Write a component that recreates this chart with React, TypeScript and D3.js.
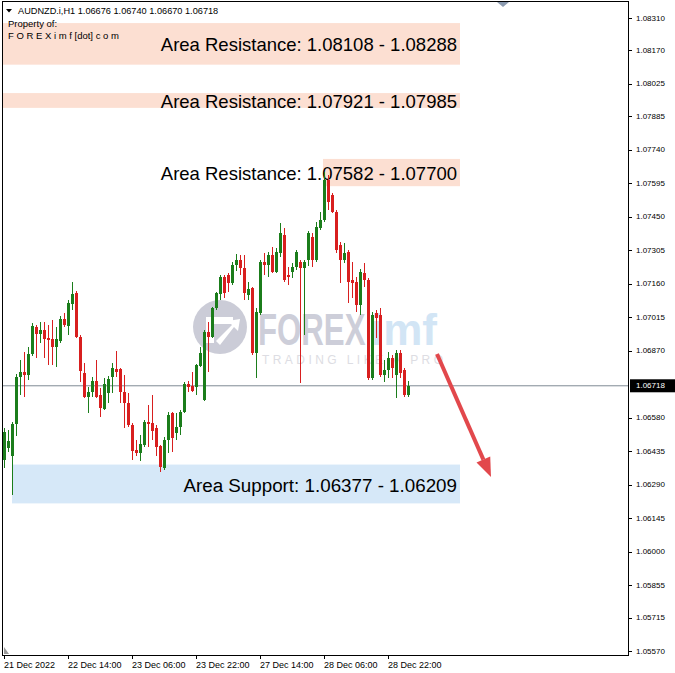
import React from "react";
import * as d3 from "d3";

const opens = [
  1.06397, 1.06449, 1.06414, 1.06553, 1.06756, 1.06778, 1.06765, 1.06856, 1.06973, 1.06942,
  1.06960, 1.06925, 1.06921, 1.06886, 1.06912, 1.07007, 1.06977, 1.07072, 1.07120, 1.06929,
  1.06774, 1.06670, 1.06691, 1.06739, 1.06678, 1.06618, 1.06687, 1.06756, 1.06791, 1.06791,
  1.06691, 1.06644, 1.06548, 1.06440, 1.06427, 1.06462, 1.06561, 1.06557, 1.06535, 1.06457,
  1.06362, 1.06483, 1.06600, 1.06514, 1.06540, 1.06605, 1.06726, 1.06717, 1.06713, 1.06804,
  1.06657, 1.06951, 1.06929, 1.07055, 1.07116, 1.07189, 1.07198, 1.07163, 1.07241, 1.07263,
  1.07228, 1.07111, 1.07141, 1.06860, 1.07033, 1.07254, 1.07241, 1.07284, 1.07211, 1.07293,
  1.07371, 1.07198, 1.07211, 1.07232, 1.07254, 1.07228, 1.07263, 1.07362, 1.07263, 1.07401,
  1.07436, 1.07609, 1.07544, 1.07471, 1.07328, 1.07263, 1.07297, 1.07176, 1.07167, 1.07068,
  1.07206, 1.07176, 1.06752, 1.07033, 1.07025, 1.06765, 1.06787, 1.06838, 1.06765, 1.06860,
  1.06787, 1.06676,
];
const highs = [
  1.06535, 1.06527, 1.06561, 1.06769, 1.06830, 1.06864, 1.06886, 1.06990, 1.06981, 1.06994,
  1.06994, 1.06981, 1.07003, 1.06973, 1.07020, 1.07033, 1.07090, 1.07167, 1.07129, 1.06938,
  1.06817, 1.06713, 1.06756, 1.06830, 1.06709, 1.06752, 1.06760, 1.06817, 1.06869, 1.06795,
  1.06765, 1.06687, 1.06557, 1.06483, 1.06505, 1.06570, 1.06635, 1.06678, 1.06548, 1.06462,
  1.06496, 1.06605, 1.06605, 1.06600, 1.06613, 1.06735, 1.06739, 1.06778, 1.06812, 1.06886,
  1.06960, 1.06994, 1.07059, 1.07124, 1.07198, 1.07198, 1.07206, 1.07254, 1.07289, 1.07284,
  1.07284, 1.07167, 1.07146, 1.07055, 1.07263, 1.07293, 1.07297, 1.07319, 1.07315, 1.07423,
  1.07401, 1.07232, 1.07250, 1.07306, 1.07263, 1.07263, 1.07388, 1.07379, 1.07427, 1.07471,
  1.07644, 1.07631, 1.07553, 1.07479, 1.07341, 1.07336, 1.07306, 1.07254, 1.07189, 1.07224,
  1.07250, 1.07185, 1.07038, 1.07046, 1.07055, 1.06830, 1.06864, 1.06851, 1.06873, 1.06873,
  1.06795, 1.06740,
];
const lows = [
  1.06362, 1.06431, 1.06245, 1.06501, 1.06678, 1.06670, 1.06743, 1.06847, 1.06838, 1.06903,
  1.06838, 1.06808, 1.06808, 1.06800, 1.06903, 1.06973, 1.06938, 1.07046, 1.06925, 1.06735,
  1.06665, 1.06600, 1.06670, 1.06665, 1.06583, 1.06613, 1.06644, 1.06687, 1.06756, 1.06644,
  1.06535, 1.06540, 1.06397, 1.06414, 1.06392, 1.06453, 1.06453, 1.06483, 1.06414, 1.06345,
  1.06354, 1.06427, 1.06431, 1.06483, 1.06505, 1.06600, 1.06691, 1.06691, 1.06678, 1.06800,
  1.06652, 1.06778, 1.06925, 1.07046, 1.07090, 1.07098, 1.07124, 1.07154, 1.07215, 1.07198,
  1.07090, 1.07090, 1.06851, 1.06752, 1.07025, 1.07198, 1.07189, 1.07206, 1.07206, 1.07276,
  1.07167, 1.07154, 1.07185, 1.07219, 1.06730, 1.06938, 1.07237, 1.07232, 1.07254, 1.07393,
  1.07427, 1.07479, 1.07466, 1.07293, 1.07163, 1.07250, 1.07077, 1.07098, 1.07038, 1.07025,
  1.07146, 1.06743, 1.06743, 1.06925, 1.06756, 1.06735, 1.06752, 1.06752, 1.06665, 1.06752,
  1.06670, 1.06670,
];
const closes = [
  1.06518, 1.06479, 1.06553, 1.06756, 1.06778, 1.06765, 1.06856, 1.06977, 1.06942, 1.06960,
  1.06921, 1.06916, 1.06886, 1.06921, 1.07007, 1.06981, 1.07077, 1.07116, 1.06929, 1.06782,
  1.06670, 1.06691, 1.06739, 1.06670, 1.06622, 1.06726, 1.06747, 1.06795, 1.06778, 1.06691,
  1.06644, 1.06548, 1.06436, 1.06427, 1.06466, 1.06561, 1.06553, 1.06522, 1.06453, 1.06367,
  1.06483, 1.06592, 1.06492, 1.06540, 1.06605, 1.06726, 1.06713, 1.06695, 1.06808, 1.06860,
  1.06951, 1.06929, 1.07055, 1.07120, 1.07189, 1.07120, 1.07163, 1.07241, 1.07263, 1.07228,
  1.07120, 1.07137, 1.06860, 1.07038, 1.07254, 1.07241, 1.07284, 1.07211, 1.07297, 1.07379,
  1.07176, 1.07189, 1.07232, 1.07297, 1.07228, 1.07254, 1.07379, 1.07263, 1.07406, 1.07436,
  1.07609, 1.07514, 1.07471, 1.07306, 1.07263, 1.07293, 1.07167, 1.07163, 1.07068, 1.07211,
  1.07176, 1.06752, 1.07025, 1.07012, 1.06765, 1.06787, 1.06838, 1.06795, 1.06860, 1.06774,
  1.06678, 1.06718,
];

const priceTicks = [
  1.0831, 1.0817, 1.08025, 1.07885, 1.0774, 1.07595, 1.0745, 1.07305, 1.0716, 1.07015,
  1.0687, 1.0658, 1.06435, 1.0629, 1.06145, 1.06, 1.05855, 1.05715, 1.0557,
];
const timeTickIndex = [0, 16, 32, 48, 64, 80, 96];
const timeTickLabels = [
  "21 Dec 2022", "22 Dec 14:00", "23 Dec 06:00", "23 Dec 22:00",
  "27 Dec 14:00", "28 Dec 06:00", "28 Dec 22:00",
];

const resistanceLows = [1.08108, 1.07921, 1.07582];
const resistanceHighs = [1.08288, 1.07985, 1.077];
const supportLow = 1.06209;
const supportHigh = 1.06377;
const symbol = "AUDNZD.i,H1";
const currentPrice = 1.06718;

const FONT = "'Liberation Sans', Arial, sans-serif";
const W = 675;
const H = 673;

export default function App() {
  const y = d3.scaleLinear().domain([1.0557, 1.0831]).range([651, 18]);
  const x = d3.scaleLinear().domain([0, 101]).range([4, 408]);
  const fmt = d3.format(".5f");
  const n = closes.length;
  const green = "#1b7d1b";
  const red = "#d81f1f";

  const resStart = [3, 3, 323];
  const cpY = y(currentPrice);

  // arrow geometry
  const ax0 = 437, ay0 = 354, ax1 = 491, ay1 = 477;
  const len = Math.hypot(ax1 - ax0, ay1 - ay0);
  const ux = (ax1 - ax0) / len, uy = (ay1 - ay0) / len;
  const bx = ax1 - 19 * ux, by = ay1 - 19 * uy;
  const px = -uy * 7.5, py = ux * 7.5;

  return (
    <svg
      width={W}
      height={H}
      viewBox={`0 0 ${W} ${H}`}
      style={{ position: "absolute", left: 0, top: 0, background: "#fff" }}
    >
      <rect x={0} y={0} width={W} height={H} fill="#fff" />

      {/* resistance zones */}
      {resistanceLows.map((lo, i) => (
        <rect
          key={"r" + i}
          x={resStart[i]}
          y={y(resistanceHighs[i])}
          width={460 - resStart[i]}
          height={y(lo) - y(resistanceHighs[i])}
          fill="#fcdfd2"
        />
      ))}
      {/* support zone */}
      <rect
        x={12}
        y={y(supportHigh)}
        width={448}
        height={y(supportLow) - y(supportHigh)}
        fill="#d6e8f8"
      />

      {/* watermark */}
      <g>
        <circle cx={220} cy={327} r={27} fill="#cbccd7" />
        <path d="M206,317 H233 V324 H214 V343 H206 Z" fill="#fff" />
        <path d="M216,341 L232,325 L228,321 L240,319 L238,331 L234,327 L220,345 Z" fill="#fff" />
        <text
          transform="translate(258,345) scale(1.56,2.22)"
          fontFamily={FONT}
          fontWeight="bold"
          fontSize={20}
          fill="#cdced9"
        >
          FOREX
        </text>
        <text
          transform="translate(371,345) scale(2.2,2.22)"
          fontFamily={FONT}
          fontWeight="bold"
          fontSize={20}
          fill="#d2e5f5"
        >
          imf
        </text>
        <text
          x={262}
          y={364}
          fontFamily={FONT}
          fontSize={12}
          textLength={181}
          lengthAdjust="spacing"
          fill="#dddde3"
        >
          TRADING LIKE A PRO
        </text>
      </g>

      {/* current price line */}
      <line x1={3} x2={628} y1={cpY} y2={cpY} stroke="#7f8a94" strokeWidth={1} />

      {/* zone labels */}
      {resistanceLows.map((lo, i) => (
        <text
          key={"rt" + i}
          x={457}
          y={(y(lo) + y(resistanceHighs[i])) / 2 + 1}
          textAnchor="end"
          dominantBaseline="central"
          fontFamily={FONT}
          fontSize={18.5}
          fill="#000"
        >
          {`Area Resistance: ${fmt(lo)} - ${fmt(resistanceHighs[i])}`}
        </text>
      ))}
      <text
        x={457}
        y={(y(supportLow) + y(supportHigh)) / 2 + 2}
        textAnchor="end"
        dominantBaseline="central"
        fontFamily={FONT}
        fontSize={18.8}
        fill="#000"
      >
        {`Area Support: ${fmt(supportHigh)} - ${fmt(supportLow)}`}
      </text>

      {/* candles */}
      <g shapeRendering="crispEdges">
        {d3.range(n).map((i) => {
          const up = closes[i] >= opens[i];
          const c = up ? green : red;
          const cx = Math.round(x(i));
          const top = y(Math.max(opens[i], closes[i]));
          const bot = y(Math.min(opens[i], closes[i]));
          return (
            <g key={i}>
              <line x1={cx + 0.5} x2={cx + 0.5} y1={y(highs[i])} y2={y(lows[i])} stroke={c} strokeWidth={1} />
              <rect x={cx - 1} y={top} width={3} height={Math.max(1, bot - top)} fill={c} />
            </g>
          );
        })}
      </g>

      {/* arrow */}
      <line x1={ax0} y1={ay0} x2={bx} y2={by} stroke="#e2484c" strokeWidth={4} />
      <polygon
        points={`${ax1},${ay1} ${bx + px},${by + py} ${bx - px},${by - py}`}
        fill="#e2484c"
      />

      {/* header */}
      <polygon points="6,9 12,9 9,12.5" fill="#000" />
      <text x={18} y={13.5} fontFamily={FONT} fontSize={9.2} fill="#000">
        {`${symbol}  ${fmt(opens[n - 1])} ${fmt(highs[n - 1])} ${fmt(lows[n - 1])} ${fmt(closes[n - 1])}`}
      </text>
      <text x={8} y={27} fontFamily={FONT} fontSize={9.5} fill="#000">
        Property of:
      </text>
      <text x={8} y={39} fontFamily={FONT} fontSize={9.5} fill="#000">
        F O R E X i m f [dot] c o m
      </text>

      {/* frame */}
      <g shapeRendering="crispEdges">
        <line x1={2.5} x2={2.5} y1={1} y2={655} stroke="#000" />
        <line x1={2} x2={629} y1={1.5} y2={1.5} stroke="#000" />
        <line x1={628.5} x2={628.5} y1={1} y2={656} stroke="#000" />
        <line x1={2} x2={629} y1={655.5} y2={655.5} stroke="#000" />
      </g>
      <polygon points="497,2 509,2 503,7" fill="#8c9bb0" />
      <polygon points="4,647 4,654 9,654" fill="#9a9a9a" />

      {/* price axis */}
      <g shapeRendering="crispEdges">
        {priceTicks.map((t) => (
          <line key={"pt" + t} x1={628} x2={632} y1={Math.round(y(t)) + 0.5} y2={Math.round(y(t)) + 0.5} stroke="#000" />
        ))}
      </g>
      {priceTicks.map((t) => (
        <text
          key={"pl" + t}
          x={636}
          y={y(t)}
          dominantBaseline="central"
          fontFamily={FONT}
          fontSize={8}
          fill="#000"
        >
          {fmt(t)}
        </text>
      ))}
      <rect x={630} y={cpY - 6.5} width={45} height={13} fill="#000" />
      <text
        x={636}
        y={cpY}
        dominantBaseline="central"
        fontFamily={FONT}
        fontSize={8}
        fill="#fff"
      >
        {fmt(currentPrice)}
      </text>

      {/* time axis */}
      <g shapeRendering="crispEdges">
        {timeTickIndex.map((ti) => (
          <line key={"tt" + ti} x1={Math.round(x(ti)) + 0.5} x2={Math.round(x(ti)) + 0.5} y1={655} y2={659} stroke="#000" />
        ))}
      </g>
      {timeTickIndex.map((ti, k) => (
        <text
          key={"tl" + ti}
          x={Math.round(x(ti))}
          y={668}
          fontFamily={FONT}
          fontSize={9}
          fill="#000"
        >
          {timeTickLabels[k]}
        </text>
      ))}
    </svg>
  );
}
